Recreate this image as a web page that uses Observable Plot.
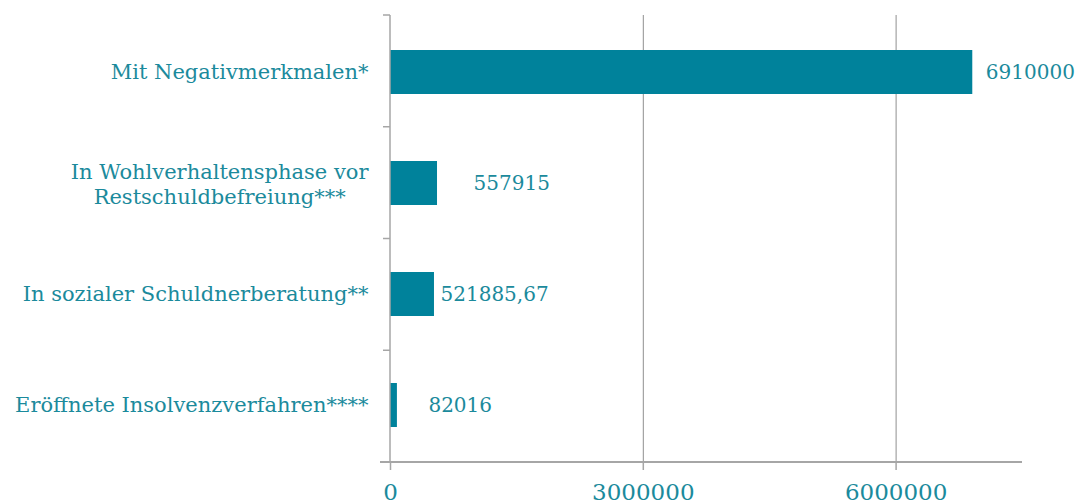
<!DOCTYPE html>
<html>
<head>
<meta charset="utf-8">
<script src="https://cdn.jsdelivr.net/npm/d3@7"></script>
<script src="https://cdn.jsdelivr.net/npm/@observablehq/plot@0.6"></script>
<style>
  html, body { margin: 0; padding: 0; background: #ffffff; }
  #chart { width: 1081px; height: 504px; overflow: hidden; }
</style>
</head>
<body>
<div id="chart"></div>
<script>
// ---- Data ----
const categories = [
  "Mit Negativmerkmalen*",
  "In Wohlverhaltensphase vor\nRestschuldbefreiung***",
  "In sozialer Schuldnerberatung**",
  "Eröffnete Insolvenzverfahren****"
];
const values = [6910000, 557915, 521885.67, 82016];
const xTicks = [0, 3000000, 6000000];

// ---- Styling ----
const FONT = "'DejaVu Serif', Georgia, serif";
const CAT_SIZE = 21;
const VALUE_SIZE = 20;
const TICK_SIZE = 23;
const TEAL_TEXT = "#1b8a9c";
const BAR = "#00829b";
const GRID = "#8f8f8f";
const AXIS = "#a6a6a6";
const labelGaps = [13, 36, 6, 31]; // px gap between bar end and its value label

const data = categories.map((c, i) => ({category: c, value: values[i]}));
const fmt = v => String(v).replace(".", ",");

// measure widest line of multi-line label to center it like the reference
function textWidth(s) {
  const ctx = document.createElement("canvas").getContext("2d");
  ctx.font = `${CAT_SIZE}px ${FONT}`;
  return ctx.measureText(s).width;
}

const singleLine = data.filter(d => !d.category.includes("\n"));
const multiLine = data.filter(d => d.category.includes("\n"));

const marks = [
  Plot.gridX(xTicks.filter(t => t !== 0), {stroke: GRID, strokeOpacity: 1, strokeWidth: 1}),
  Plot.barX(data, {x: "value", y: "category", fill: BAR}),
  // axis lines and category boundary ticks
  (index, scales, vals, dims) => {
    const g = d3.create("svg:g");
    const x0 = dims.marginLeft;
    const top = dims.marginTop;
    const bottom = dims.height - dims.marginBottom;
    const n = categories.length;
    g.append("line").attr("x1", x0).attr("x2", x0).attr("y1", top).attr("y2", bottom)
      .attr("stroke", AXIS).attr("stroke-width", 1.5);
    for (let i = 0; i <= n; i++) {
      const y = top + (bottom - top) * i / n;
      g.append("line").attr("x1", x0 - 7).attr("x2", x0).attr("y1", y).attr("y2", y)
        .attr("stroke", AXIS).attr("stroke-width", 1.5);
    }
    g.append("line").attr("x1", x0 - 10).attr("x2", dims.width - dims.marginRight)
      .attr("y1", bottom).attr("y2", bottom).attr("stroke", AXIS).attr("stroke-width", 2);
    return g.node();
  },
  Plot.axisX({
    ticks: xTicks, tickFormat: d => String(d), tickSize: 8, tickPadding: 13,
    stroke: AXIS, fill: TEAL_TEXT, fontSize: TICK_SIZE, strokeWidth: 1.5, label: null
  }),
  Plot.text(singleLine, {
    y: "category", text: "category", frameAnchor: "left", textAnchor: "end",
    dx: -22, fill: TEAL_TEXT, fontSize: CAT_SIZE
  }),
  ...multiLine.map(d => {
    const w = Math.max(...d.category.split("\n").map(textWidth));
    return Plot.text([d], {
      y: "category", text: "category", frameAnchor: "left", textAnchor: "middle",
      dx: -22 - w / 2, fill: TEAL_TEXT, fontSize: CAT_SIZE, lineHeight: 1.2
    });
  }),
  ...data.map((d, i) => Plot.text([d], {
    x: "value", y: "category", text: r => fmt(r.value), textAnchor: "start",
    dx: labelGaps[i], fill: TEAL_TEXT, fontSize: VALUE_SIZE
  }))
];

const chart = Plot.plot({
  width: 1081,
  height: 504,
  marginLeft: 390,
  marginRight: 59,
  marginTop: 15,
  marginBottom: 42,
  x: {domain: [0, 7500000], axis: null},
  y: {domain: categories, paddingInner: 0.6, paddingOuter: 0.3, axis: null},
  style: {fontFamily: FONT, background: "#ffffff", overflow: "hidden"},
  marks
});
document.getElementById("chart").appendChild(chart);
</script>
</body>
</html>
